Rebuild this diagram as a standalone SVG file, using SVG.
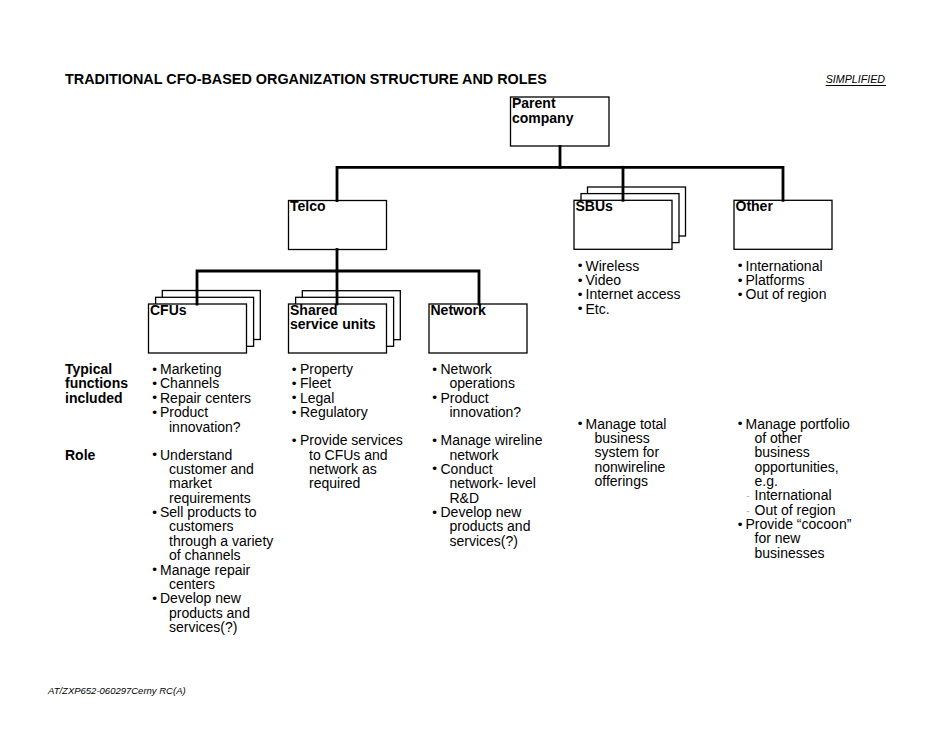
<svg xmlns="http://www.w3.org/2000/svg" width="950" height="735" viewBox="0 0 950 735">
<style>
.t{font-family:"Liberation Sans",Arial,Helvetica,sans-serif;font-size:14px;fill:#000}
.h{font-weight:bold}
.ti{font-family:"Liberation Sans",Arial,Helvetica,sans-serif;font-weight:bold;font-size:14.4px;fill:#000}
.it{font-family:"Liberation Sans",Arial,Helvetica,sans-serif;font-style:italic;fill:#000}
.bl{font-family:"Liberation Sans",Arial,Helvetica,sans-serif;font-size:13.5px;text-anchor:middle;fill:#000}
.ds{font-family:"Liberation Sans",Arial,Helvetica,sans-serif;font-size:9px;text-anchor:middle;fill:#999}
.box{fill:#fff;stroke:#000;stroke-width:1.3}
.con{fill:none;stroke:#000;stroke-width:2.8;stroke-linecap:square}
</style>
<rect width="950" height="735" fill="#fff"/>
<text class="ti" x="65" y="83.5">TRADITIONAL CFO-BASED ORGANIZATION STRUCTURE AND ROLES</text>
<text class="it" x="825.7" y="82.5" font-size="10.7px">SIMPLIFIED</text>
<line x1="825.7" y1="85.5" x2="886" y2="85.5" stroke="#000" stroke-width="1"/>

<g id="parent">
<rect class="box" x="510.5" y="97" width="98.5" height="49"/>
<text class="t h" x="512" y="108">Parent</text>
<text class="t h" x="512" y="122.5">company</text>
</g>
<g id="telco">
<rect class="box" x="288.5" y="200.5" width="98" height="49"/>
<text class="t h" x="290" y="211">Telco</text>
</g>
<g id="sbus">
<rect class="box" x="587.5" y="187" width="98" height="49"/>
<rect class="box" x="581" y="193.6" width="98" height="49"/>
<rect class="box" x="574" y="200.3" width="98" height="49"/>
<text class="t h" x="575.5" y="211">SBUs</text>
</g>
<g id="other">
<rect class="box" x="734" y="200.3" width="98" height="49"/>
<text class="t h" x="735.5" y="211">Other</text>
</g>
<g id="cfus">
<rect class="box" x="162.3" y="290.5" width="98" height="49"/>
<rect class="box" x="155.6" y="297.3" width="98" height="49"/>
<rect class="box" x="148.5" y="304" width="98" height="49"/>
<text class="t h" x="150" y="314.5">CFUs</text>
</g>
<g id="shared">
<rect class="box" x="302.3" y="290.7" width="98" height="49"/>
<rect class="box" x="295.6" y="297.3" width="98" height="49"/>
<rect class="box" x="288.5" y="304" width="98" height="49"/>
<text class="t h" x="290" y="314.5">Shared</text>
<text class="t h" x="290" y="328.8">service units</text>
</g>
<g id="network">
<rect class="box" x="429" y="304" width="98" height="49"/>
<text class="t h" x="430.5" y="314.5">Network</text>
</g>

<g id="connectors">
<path class="con" d="M560,146.5 V167.3"/>
<path class="con" d="M337,200.5 V167.3 H783 V200.3"/>
<path class="con" d="M623,167.3 V200.3"/>
<path class="con" d="M337,249.5 V271"/>
<path class="con" d="M197,304 V271 H479 V304"/>
<path class="con" d="M337,271 V304"/>
</g>

<g id="row-labels">
<text class="t h" x="65" y="374">Typical</text>
<text class="t h" x="65" y="388.4">functions</text>
<text class="t h" x="65" y="402.7">included</text>
<text class="t h" x="65" y="459.5">Role</text>
</g>

<g id="cfu-text">
<text class="bl" x="154.5" y="373.5">•</text><text class="t" x="160" y="374">Marketing</text>
<text class="bl" x="154.5" y="387.9">•</text><text class="t" x="160" y="388.4">Channels</text>
<text class="bl" x="154.5" y="402.2">•</text><text class="t" x="160" y="402.7">Repair centers</text>
<text class="bl" x="154.5" y="416.6">•</text><text class="t" x="160" y="417.1">Product</text>
<text class="t" x="169" y="431.5">innovation?</text>
<text class="bl" x="154.5" y="459">•</text><text class="t" x="160" y="459.5">Understand</text>
<text class="t" x="169" y="473.9">customer and</text>
<text class="t" x="169" y="488.2">market</text>
<text class="t" x="169" y="502.6">requirements</text>
<text class="bl" x="154.5" y="516.5">•</text><text class="t" x="160" y="517">Sell products to</text>
<text class="t" x="169" y="531.4">customers</text>
<text class="t" x="169" y="545.7">through a variety</text>
<text class="t" x="169" y="560.1">of channels</text>
<text class="bl" x="154.5" y="574">•</text><text class="t" x="160" y="574.5">Manage repair</text>
<text class="t" x="169" y="588.8">centers</text>
<text class="bl" x="154.5" y="602.7">•</text><text class="t" x="160" y="603.2">Develop new</text>
<text class="t" x="169" y="617.6">products and</text>
<text class="t" x="169" y="631.9">services(?)</text>
</g>

<g id="shared-text">
<text class="bl" x="294" y="373.5">•</text><text class="t" x="300" y="374">Property</text>
<text class="bl" x="294" y="387.9">•</text><text class="t" x="300" y="388.4">Fleet</text>
<text class="bl" x="294" y="402.2">•</text><text class="t" x="300" y="402.7">Legal</text>
<text class="bl" x="294" y="416.6">•</text><text class="t" x="300" y="417.1">Regulatory</text>
<text class="bl" x="294" y="444.6">•</text><text class="t" x="300" y="445.1">Provide services</text>
<text class="t" x="309" y="459.5">to CFUs and</text>
<text class="t" x="309" y="473.9">network as</text>
<text class="t" x="309" y="488.2">required</text>
</g>

<g id="network-text">
<text class="bl" x="434.5" y="373.5">•</text><text class="t" x="440.5" y="374">Network</text>
<text class="t" x="449.5" y="388.4">operations</text>
<text class="bl" x="434.5" y="402.2">•</text><text class="t" x="440.5" y="402.7">Product</text>
<text class="t" x="449.5" y="417.1">innovation?</text>
<text class="bl" x="434.5" y="444.6">•</text><text class="t" x="440.5" y="445.1">Manage wireline</text>
<text class="t" x="449.5" y="459.5">network</text>
<text class="bl" x="434.5" y="473.4">•</text><text class="t" x="440.5" y="473.9">Conduct</text>
<text class="t" x="449.5" y="488.2">network- level</text>
<text class="t" x="449.5" y="502.6">R&amp;D</text>
<text class="bl" x="434.5" y="516.5">•</text><text class="t" x="440.5" y="517">Develop new</text>
<text class="t" x="449.5" y="531.4">products and</text>
<text class="t" x="449.5" y="545.7">services(?)</text>
</g>

<g id="sbu-text">
<text class="bl" x="580" y="270.2">•</text><text class="t" x="585.5" y="270.7">Wireless</text>
<text class="bl" x="580" y="284.6">•</text><text class="t" x="585.5" y="285.1">Video</text>
<text class="bl" x="580" y="298.9">•</text><text class="t" x="585.5" y="299.4">Internet access</text>
<text class="bl" x="580" y="313.3">•</text><text class="t" x="585.5" y="313.8">Etc.</text>
<text class="bl" x="580" y="428">•</text><text class="t" x="585.5" y="428.5">Manage total</text>
<text class="t" x="594.5" y="442.9">business</text>
<text class="t" x="594.5" y="457.2">system for</text>
<text class="t" x="594.5" y="471.6">nonwireline</text>
<text class="t" x="594.5" y="486">offerings</text>
</g>

<g id="other-text">
<text class="bl" x="740" y="270.2">•</text><text class="t" x="745.5" y="270.7">International</text>
<text class="bl" x="740" y="284.6">•</text><text class="t" x="745.5" y="285.1">Platforms</text>
<text class="bl" x="740" y="298.9">•</text><text class="t" x="745.5" y="299.4">Out of region</text>
<text class="bl" x="740" y="428">•</text><text class="t" x="745.5" y="428.5">Manage portfolio</text>
<text class="t" x="754.5" y="442.9">of other</text>
<text class="t" x="754.5" y="457.2">business</text>
<text class="t" x="754.5" y="471.6">opportunities,</text>
<text class="t" x="754.5" y="486">e.g.</text>
<text class="ds" x="748" y="499.3">-</text><text class="t" x="754.5" y="500.3">International</text>
<text class="ds" x="748" y="513.7">-</text><text class="t" x="754.5" y="514.7">Out of region</text>
<text class="bl" x="740" y="528.6">•</text><text class="t" x="745.5" y="529.1">Provide “cocoon”</text>
<text class="t" x="754.5" y="543.4">for new</text>
<text class="t" x="754.5" y="557.8">businesses</text>
</g>

<text class="it" x="48" y="694" font-size="9.5px">AT/ZXP652-060297Cerny RC(A)</text>
</svg>
